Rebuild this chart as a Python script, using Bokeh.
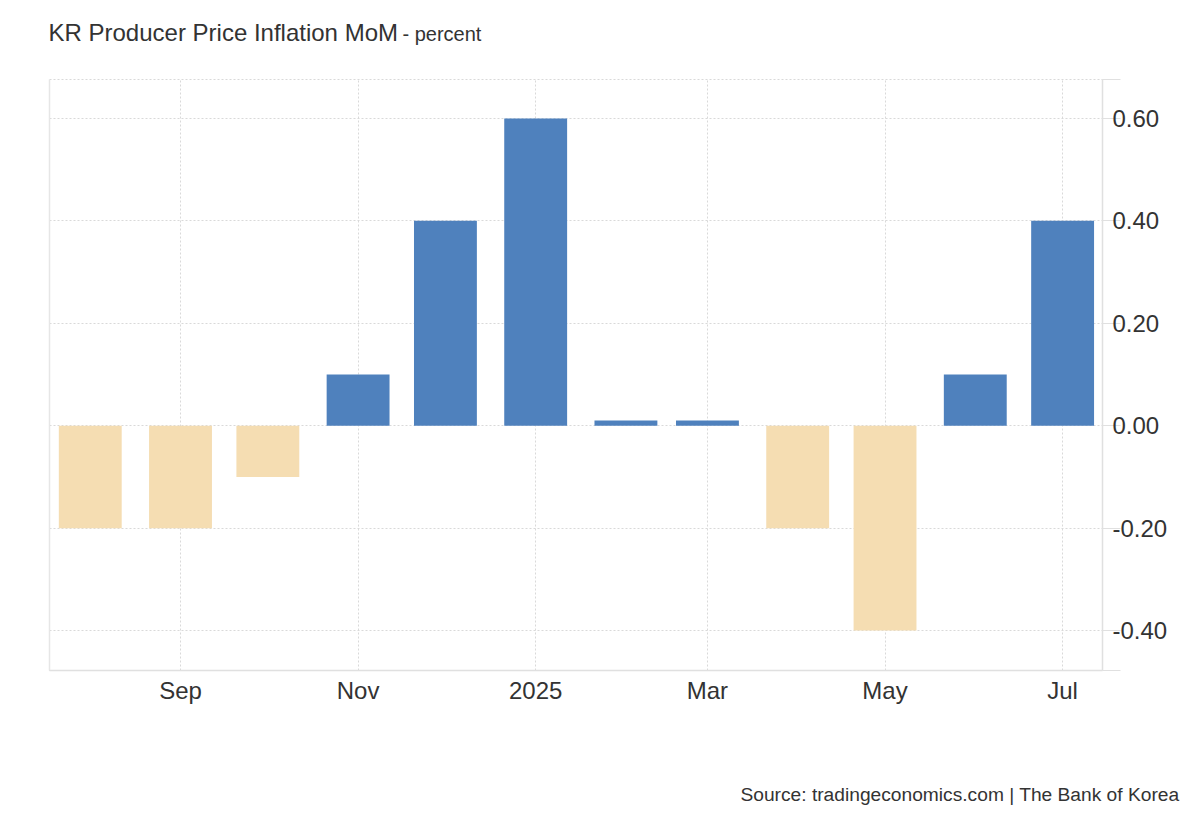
import datetime as dt
from bokeh.plotting import figure
from bokeh.models import (ColumnDataSource, Range1d, LinearAxis, FixedTicker,
                          Title, NumeralTickFormatter)
from bokeh.embed import file_html
from bokeh.resources import INLINE

# ---- data ----
months = ["2024-08", "2024-09", "2024-10", "2024-11", "2024-12", "2025-01",
          "2025-02", "2025-03", "2025-04", "2025-05", "2025-06", "2025-07"]
values = [-0.2, -0.2, -0.1, 0.1, 0.4, 0.6, 0.01, 0.01, -0.2, -0.4, 0.1, 0.4]
x_tick_months = ["2024-09", "2024-11", "2025-01", "2025-03", "2025-05", "2025-07"]
x_tick_labels = ["Sep", "Nov", "2025", "Mar", "May", "Jul"]
y_ticks = [-0.4, -0.2, 0.0, 0.2, 0.4, 0.6]

POS = "#4f81bd"
NEG = "#f5ddb2"
TXT = "#333333"
GRID = "#d9d9d9"
AXIS = "#e0e0e0"
DAY = 86400000.0
Y0, Y1 = -0.478, 0.676


def ms(ym):
    y, m = ym.split("-")
    return dt.datetime(int(y), int(m), 1, tzinfo=dt.timezone.utc).timestamp() * 1000.0


xs = [ms(m) for m in months]
colors = [POS if v >= 0 else NEG for v in values]
src = ColumnDataSource(dict(x=xs, top=values, color=colors))

tick_vals = [ms(m) for m in x_tick_months]

x_start = ms("2024-09") - 45.0 * DAY
x_end = ms("2025-07") + 13.7 * DAY

p = figure(width=1184, height=812, output_backend="svg", toolbar_location=None,
           x_axis_type="datetime", y_axis_location="right",
           x_range=Range1d(x_start, x_end), y_range=Range1d(Y0, Y1),
           min_border_left=49, min_border_right=82, min_border_top=79,
           min_border_bottom=142)
p.background_fill_color = "white"
p.border_fill_color = "white"
p.outline_line_color = GRID
p.outline_line_dash = "2 2"

p.vbar(x="x", top="top", bottom=0, width=21.6 * DAY, color="color",
       line_color=None, source=src)

# x axis
xa = p.xaxis[0]
xa.ticker = FixedTicker(ticks=tick_vals)
xa.major_label_overrides = {t: l for t, l in zip(tick_vals, x_tick_labels)}
xa.axis_line_color = AXIS
xa.axis_line_width = 1.5
xa.major_tick_line_color = None
xa.major_tick_out = 0
xa.minor_tick_line_color = None
xa.major_label_text_font = "Liberation Sans"
xa.major_label_text_font_size = "24px"
xa.major_label_text_color = TXT
xa.major_label_standoff = 6

# y axis
ya = p.yaxis[0]
ya.ticker = FixedTicker(ticks=y_ticks, minor_ticks=[Y0, Y1])
ya.formatter = NumeralTickFormatter(format="0.00")
ya.axis_line_color = AXIS
ya.axis_line_width = 1.5
ya.major_tick_line_color = AXIS
ya.major_tick_out = 18
ya.major_tick_in = 0
ya.minor_tick_line_color = AXIS
ya.minor_tick_out = 18
ya.minor_tick_in = 0
ya.major_label_standoff = -8
ya.major_label_text_font = "Liberation Sans"
ya.major_label_text_font_size = "24px"
ya.major_label_text_color = TXT

# left border
la = LinearAxis(major_label_text_font_size="0px", major_tick_line_color=None,
                minor_tick_line_color=None, axis_line_color="#e6e6e6",
                axis_line_width=1.5, ticker=FixedTicker(ticks=[]))
p.add_layout(la, "left")

# grid
p.xgrid.ticker = FixedTicker(ticks=tick_vals)
p.xgrid.grid_line_color = GRID
p.xgrid.grid_line_dash = "2 2"
p.ygrid.ticker = FixedTicker(ticks=y_ticks)
p.ygrid.grid_line_color = GRID
p.ygrid.grid_line_dash = "2 2"

# titles: negative standoffs give zero-height boxes, so the frame keeps its place
p.add_layout(Title(text="KR Producer Price Inflation MoM", align="left", offset=-1,
                   vertical_align="top", standoff=-121,
                   text_font="Liberation Sans", text_font_size="24px",
                   text_font_style="normal", text_color=TXT), "above")
p.add_layout(Title(text="- percent", align="left", offset=353,
                   vertical_align="top", standoff=-114,
                   text_font="Liberation Sans", text_font_size="20px",
                   text_font_style="normal", text_color=TXT), "above")
p.add_layout(Title(text="Source: tradingeconomics.com | The Bank of Korea",
                   align="right", offset=-77, vertical_align="bottom", standoff=-196,
                   text_font="Liberation Sans", text_font_size="19.2px",
                   text_font_style="normal", text_color=TXT), "below")

open("out.html", "w").write(file_html(p, INLINE))
